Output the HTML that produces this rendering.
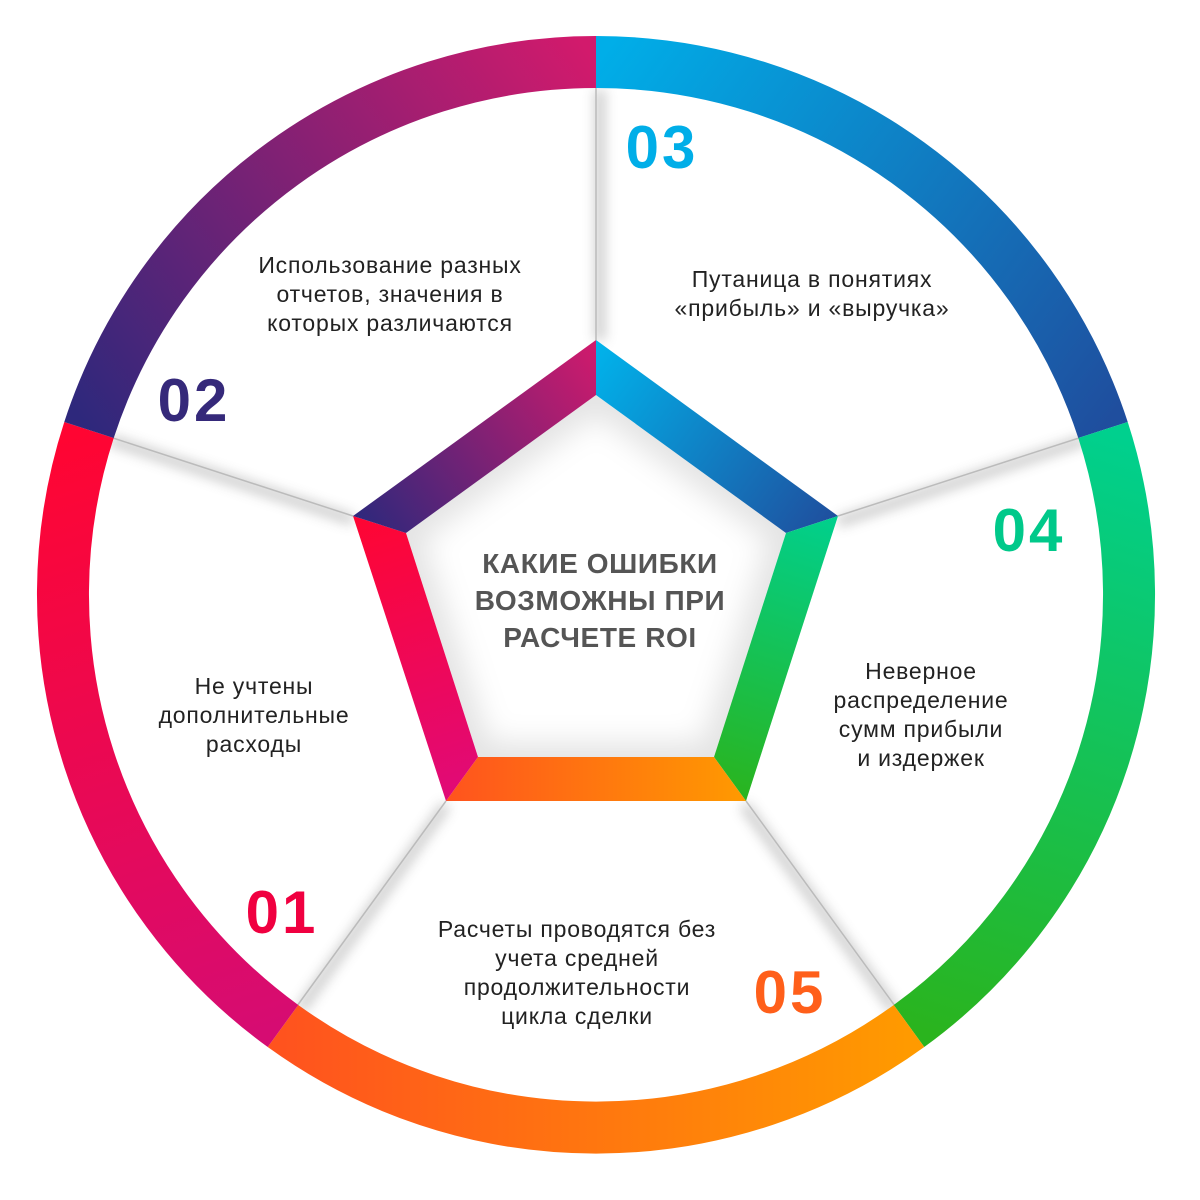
<!DOCTYPE html>
<html><head><meta charset="utf-8"><style>
html,body{margin:0;padding:0;background:#fff;width:1200px;height:1200px;overflow:hidden}
svg{display:block}
.t{font-family:"Liberation Sans",sans-serif;font-size:23px;fill:#222;text-anchor:middle;letter-spacing:0.8px}
.n{font-family:"Liberation Sans",sans-serif;font-size:60px;font-weight:bold;text-anchor:middle;letter-spacing:3px}
.c{font-family:"Liberation Sans",sans-serif;font-size:28px;font-weight:bold;fill:#555;text-anchor:middle;letter-spacing:0.6px}
</style></head><body>
<svg width="1200" height="1200" viewBox="0 0 1200 1200">
<defs>
<linearGradient id="g3" gradientUnits="userSpaceOnUse" x1="596" y1="62" x2="1103" y2="430"><stop offset="0" stop-color="#00aee8"/><stop offset="1" stop-color="#1f4e9e"/></linearGradient>
<linearGradient id="g4" gradientUnits="userSpaceOnUse" x1="1103" y1="430" x2="909" y2="1026"><stop offset="0" stop-color="#00d08e"/><stop offset="1" stop-color="#2ab41e"/></linearGradient>
<linearGradient id="g5" gradientUnits="userSpaceOnUse" x1="909" y1="1026" x2="283" y2="1026"><stop offset="0" stop-color="#ff9a00"/><stop offset="1" stop-color="#ff531e"/></linearGradient>
<linearGradient id="g1" gradientUnits="userSpaceOnUse" x1="89" y1="430" x2="283" y2="1026"><stop offset="0" stop-color="#ff0532"/><stop offset="1" stop-color="#d60c72"/></linearGradient>
<linearGradient id="g2" gradientUnits="userSpaceOnUse" x1="89" y1="430" x2="596" y2="62"><stop offset="0" stop-color="#2e287c"/><stop offset="1" stop-color="#d21a6c"/></linearGradient>
<linearGradient id="p3" gradientUnits="userSpaceOnUse" x1="596" y1="340" x2="838" y2="516"><stop offset="0" stop-color="#00b4ec"/><stop offset="1" stop-color="#1f4f9e"/></linearGradient>
<linearGradient id="p4" gradientUnits="userSpaceOnUse" x1="838" y1="516" x2="746" y2="801"><stop offset="0" stop-color="#00d08e"/><stop offset="1" stop-color="#2ab41e"/></linearGradient>
<linearGradient id="p5" gradientUnits="userSpaceOnUse" x1="446" y1="801" x2="746" y2="801"><stop offset="0" stop-color="#ff531e"/><stop offset="1" stop-color="#ff9a00"/></linearGradient>
<linearGradient id="p1" gradientUnits="userSpaceOnUse" x1="353" y1="516" x2="446" y2="801"><stop offset="0" stop-color="#ff0532"/><stop offset="1" stop-color="#e00a78"/></linearGradient>
<linearGradient id="p2" gradientUnits="userSpaceOnUse" x1="353" y1="516" x2="596" y2="340"><stop offset="0" stop-color="#2e287c"/><stop offset="1" stop-color="#d21a6c"/></linearGradient>
<filter id="sh" x="-20%" y="-20%" width="140%" height="140%"><feGaussianBlur stdDeviation="6"/></filter>
<filter id="sh2" x="-20%" y="-20%" width="140%" height="140%"><feGaussianBlur stdDeviation="14"/></filter>
</defs>
<g stroke="#888" stroke-width="10" filter="url(#sh)" opacity="0.45">
<line x1="600" y1="340" x2="600" y2="90"/>
<line x1="838" y1="522" x2="1085" y2="440"/>
<line x1="744" y1="805" x2="895" y2="1010"/>
<line x1="446" y1="805" x2="300" y2="1010"/>
<line x1="353" y1="520" x2="110" y2="440"/>
</g>
<g stroke="#bbb" stroke-width="1.5">
<line x1="596" y1="340" x2="596" y2="87"/>
<line x1="838" y1="516" x2="1079" y2="438"/>
<line x1="746" y1="801" x2="895" y2="1006"/>
<line x1="446" y1="801" x2="297" y2="1006"/>
<line x1="353" y1="516" x2="113" y2="438"/>
</g>
<g fill="none" stroke-width="52">
<path d="M596 62 A533 533 0 0 1 1103 430" stroke="url(#g3)"/>
<path d="M1103 430 A533 533 0 0 1 909 1026" stroke="url(#g4)"/>
<path d="M909 1026 A533 533 0 0 1 283 1026" stroke="url(#g5)"/>
<path d="M283 1026 A533 533 0 0 1 89 430" stroke="url(#g1)"/>
<path d="M89 430 A533 533 0 0 1 596 62" stroke="url(#g2)"/>
</g>
<polygon points="596,395 786,533 714,757 478,757 406,533" fill="#e4e4e4"/>
<polygon points="596,415 768,540 702,742 490,742 424,540" fill="#fff" filter="url(#sh2)"/>
<polygon points="596,340 838,516 786,533 596,395" fill="url(#p3)"/>
<polygon points="838,516 746,801 714,757 786,533" fill="url(#p4)"/>
<polygon points="746,801 446,801 478,757 714,757" fill="url(#p5)"/>
<polygon points="446,801 353,516 406,533 478,757" fill="url(#p1)"/>
<polygon points="353,516 596,340 596,395 406,533" fill="url(#p2)"/>
<text class="c" x="600" y="573">КАКИЕ ОШИБКИ</text>
<text class="c" x="600" y="610">ВОЗМОЖНЫ ПРИ</text>
<text class="c" x="600" y="647">РАСЧЕТЕ ROI</text>
<text class="n" x="662" y="168" fill="#00aee8">03</text>
<text class="n" x="194" y="421" fill="#35297a">02</text>
<text class="n" x="1029" y="551" fill="#00c98a">04</text>
<text class="n" x="282" y="933" fill="#f00040">01</text>
<text class="n" x="790" y="1013" fill="#ff5f1a">05</text>
<text class="t" x="390" y="273">Использование разных</text>
<text class="t" x="390" y="302">отчетов, значения в</text>
<text class="t" x="390" y="331">которых различаются</text>
<text class="t" x="812" y="287">Путаница в понятиях</text>
<text class="t" x="812" y="316">«прибыль» и «выручка»</text>
<text class="t" x="254" y="694">Не учтены</text>
<text class="t" x="254" y="723">дополнительные</text>
<text class="t" x="254" y="752">расходы</text>
<text class="t" x="921" y="679">Неверное</text>
<text class="t" x="921" y="708">распределение</text>
<text class="t" x="921" y="737">сумм прибыли</text>
<text class="t" x="921" y="766">и издержек</text>
<text class="t" x="577" y="937">Расчеты проводятся без</text>
<text class="t" x="577" y="966">учета средней</text>
<text class="t" x="577" y="995">продолжительности</text>
<text class="t" x="577" y="1024">цикла сделки</text>
</svg>
</body></html>
